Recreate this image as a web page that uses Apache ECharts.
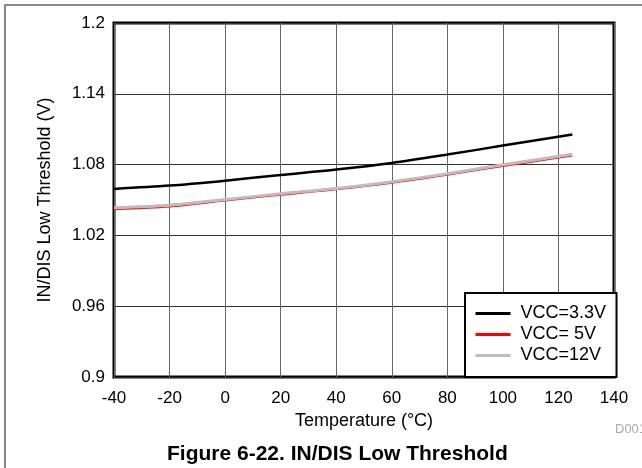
<!DOCTYPE html>
<html>
<head>
<meta charset="utf-8">
<script src="https://cdn.jsdelivr.net/npm/echarts@6/dist/echarts.min.js"></script>
<style>
html,body{margin:0;padding:0;background:#fff;}
#c{width:642px;height:468px;}
</style>
</head>
<body>
<div id="c"></div>
<script>
const temps = [-40, -20, 0, 20, 40, 60, 80, 100, 125];
const vcc33 = [1.0594, 1.0622, 1.0664, 1.0712, 1.0758, 1.0814, 1.0885, 1.0961, 1.1055];
const vcc5  = [1.0420, 1.0443, 1.0494, 1.0542, 1.0588, 1.0644, 1.0712, 1.0786, 1.0874];
const vcc12 = [1.0435, 1.0456, 1.0504, 1.0553, 1.0598, 1.0655, 1.0722, 1.0798, 1.0888];
const seriesNames = ['VCC=3.3V', 'VCC= 5V', 'VCC=12V'];
const xTicks = {min: -40, max: 140, step: 20};
const yTicks = {min: 0.9, max: 1.2, step: 0.06};

const FONT = 'Liberation Sans';
const pair = (ys) => temps.map((t, i) => [t, ys[i]]);

const chart = echarts.init(document.getElementById('c'), null, {renderer: 'canvas'});
chart.setOption({
  animation: false,
  backgroundColor: '#fff',
  textStyle: {fontFamily: FONT},
  title: [
    {text: 'Figure 6-22. IN/DIS Low Threshold', left: 162, top: 439,
     textStyle: {fontFamily: FONT, fontSize: 21, fontWeight: 'bold', color: '#000'}},
    {text: 'D001', left: 610, top: 418,
     textStyle: {fontFamily: FONT, fontSize: 13, fontWeight: 'normal', color: '#aaa'}}
  ],
  graphic: [{
    type: 'rect', shape: {x: 5, y: 5, width: 700, height: 600},
    style: {fill: 'none', stroke: '#888', lineWidth: 2}, silent: true, z: 0
  }],
  grid: {left: 114, right: 28, top: 23, bottom: 91, show: true,
         borderColor: '#000', borderWidth: 3, backgroundColor: 'transparent'},
  legend: {
    orient: 'vertical', left: 465, top: 293,
    padding: [10, 10, 11, 9], itemGap: 0, itemWidth: 35, itemHeight: 14,
    backgroundColor: '#fff', borderColor: '#000', borderWidth: 2, borderRadius: 0,
    itemStyle: {opacity: 0},
    lineStyle: {width: 3},
    textStyle: {fontFamily: FONT, fontSize: 18, color: '#000', lineHeight: 21, width: 86,
                padding: [0, 0, 0, 5]},
    data: seriesNames
  },
  xAxis: {
    type: 'value', min: xTicks.min, max: xTicks.max, interval: xTicks.step,
    name: 'Temperature (°C)', nameLocation: 'middle', nameGap: 33,
    nameTextStyle: {fontFamily: FONT, fontSize: 18, color: '#000'},
    axisLine: {show: false}, axisTick: {show: false},
    axisLabel: {fontFamily: FONT, fontSize: 17, color: '#000', margin: 13},
    splitLine: {show: true, lineStyle: {color: '#666', width: 1}}
  },
  yAxis: {
    type: 'value', min: yTicks.min, max: yTicks.max, interval: yTicks.step,
    name: 'IN/DIS Low Threshold (V)', nameLocation: 'middle', nameGap: 60,
    nameTextStyle: {fontFamily: FONT, fontSize: 18, color: '#000'},
    axisLine: {show: false}, axisTick: {show: false},
    axisLabel: {fontFamily: FONT, fontSize: 17, color: '#000', margin: 9,
                formatter: (v) => String(+v.toFixed(2))},
    splitLine: {show: true, lineStyle: {color: '#333', width: 1}}
  },
  series: [
    {name: seriesNames[0], type: 'line', data: pair(vcc33), showSymbol: false, symbol: 'none',
     smooth: 0.3, lineStyle: {color: '#000', width: 2.5}, itemStyle: {color: '#000'}, z: 3},
    {name: seriesNames[1], type: 'line', data: pair(vcc5), showSymbol: false, symbol: 'none',
     smooth: 0.3, lineStyle: {color: '#ff0000', width: 1.5}, itemStyle: {color: '#ff0000'}, z: 2},
    {name: seriesNames[2], type: 'line', data: pair(vcc12), showSymbol: false, symbol: 'none',
     smooth: 0.3, lineStyle: {color: '#bdbdbd', width: 3}, itemStyle: {color: '#bdbdbd'}, z: 2}
  ]
});
</script>
</body>
</html>
